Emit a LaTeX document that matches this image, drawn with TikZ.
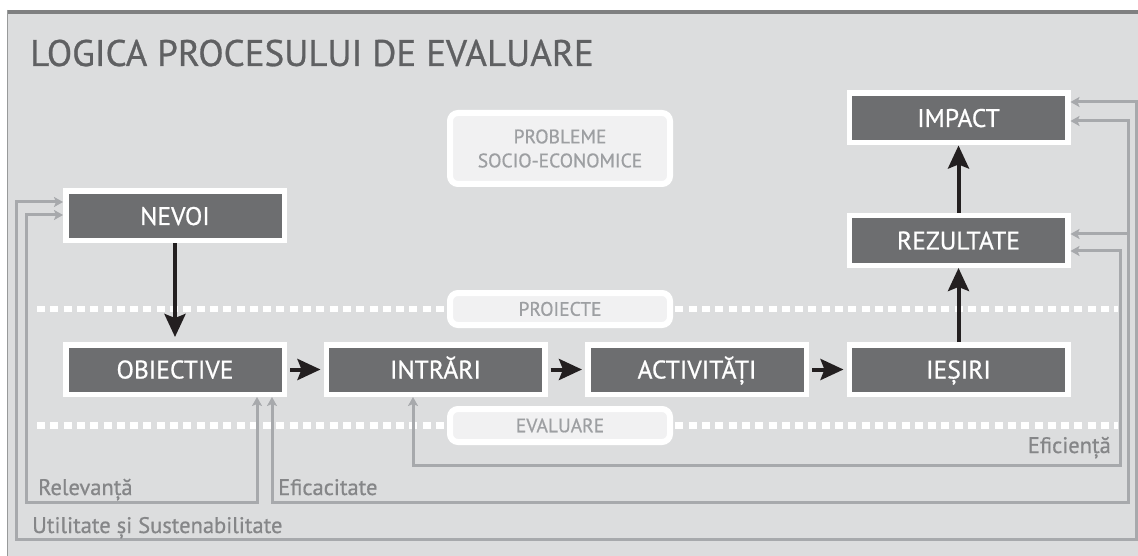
\documentclass[tikz,border=0pt]{standalone}
\usepackage{fontspec}
\setmainfont{PT Sans}[FakeBold=0.7]
\usetikzlibrary{arrows.meta}
\definecolor{bgc}{HTML}{DCDDDE}
\definecolor{boxdark}{HTML}{6D6E70}
\definecolor{loopgray}{HTML}{A7A9AC}
\definecolor{labelgray}{HTML}{858688}
\definecolor{tagfill}{HTML}{F1F1F2}
\definecolor{taggray}{HTML}{9D9FA2}
\definecolor{titlegray}{HTML}{5F6062}
\definecolor{arrowblack}{HTML}{231F20}
\definecolor{topbar}{HTML}{7F8081}
\newcommand\bxfont{\fontsize{25.5pt}{30pt}\selectfont}
\newcommand\tgfont{\fontsize{19.5pt}{24pt}\selectfont}
\newcommand\lbfont{\fontsize{22.5pt}{27pt}\selectfont}
\newcommand\ttlfont{\fontsize{37pt}{44pt}\selectfont}
\tikzset{
  mainbox/.style={draw=white, line width=5.5pt, fill=boxdark, text=white,
    minimum width=218.5pt, minimum height=49.5pt, inner sep=0pt,
    text height=18pt, text depth=0pt, font=\bxfont},
  tagbox/.style={draw=white, line width=6pt, fill=tagfill, text=taggray,
    rounded corners=8pt, minimum width=220pt, inner sep=0pt, align=center, font=\tgfont},
  flow/.style={draw=arrowblack, line width=4pt,
    -{Stealth[length=23pt,width=21pt,inset=4pt]}},
  loopline/.style={draw=loopgray, line width=3pt, line join=miter},
  looptip/.style={loopline, -{Stealth[length=9pt,width=10pt,inset=2pt]}},
  loopboth/.style={loopline, {Stealth[length=9pt,width=10pt,inset=2pt]}-{Stealth[length=9pt,width=10pt,inset=2pt]}},
  lbl/.style={text=labelgray, font=\lbfont, inner sep=0pt},
  dashline/.style={draw=white, line width=6.5pt, dash pattern=on 8pt off 5.3pt},
}
\begin{document}
\begin{tikzpicture}[x=1pt,y=-1pt]
\useasboundingbox (0,0) rectangle (1138,556);
\fill[white] (0,0) rectangle (1138,556);
\fill[bgc] (7,10) rectangle (1138,556);
\fill[topbar] (7,10) rectangle (1138,14);
\draw[topbar!80, line width=1pt] (7.5,10) -- (7.5,556);

\node[anchor=base west, text=titlegray, font=\ttlfont, inner sep=0pt] (title) at (30,66) {LOGICA PROCESULUI DE EVALUARE};

% dotted separators
\draw[dashline] (37,309) -- (1118,309);
\draw[dashline] (37,425.5) -- (1118,425.5);

% tag boxes
\node[tagbox, minimum height=71pt] (probleme) at (560,148.5) {PROBLEME\\SOCIO-ECONOMICE};
\node[tagbox, minimum height=32pt, text height=13.5pt, text depth=0pt] (proiecte) at (560,309) {PROIECTE};
\node[tagbox, minimum height=33pt, text height=13.5pt, text depth=0pt] (evaluare) at (560,425.5) {EVALUARE};

% main boxes
\node[mainbox] (nevoi) at (175,216) {NEVOI};
\node[mainbox] (obiective) at (175,369.5) {OBIECTIVE};
\node[mainbox] (intrari) at (435.5,369.5) {INTRĂRI};
\node[mainbox] (activitati) at (697,369.5) {ACTIVITĂȚI};
\node[mainbox] (iesiri) at (958.5,369.5) {IEȘIRI};
\node[mainbox] (rezultate) at (958.5,240.5) {REZULTATE};
\node[mainbox] (impact) at (958.5,118) {IMPACT};

% black flow arrows
\draw[flow, shorten >=5pt] (nevoi.south) -- (obiective.north);
\draw[flow, shorten <=3pt, shorten >=3pt] (obiective.east) -- (intrari.west);
\draw[flow, shorten <=3pt, shorten >=3pt] (intrari.east) -- (activitati.west);
\draw[flow, shorten <=3pt, shorten >=3pt] (activitati.east) -- (iesiri.west);
\draw[flow] (iesiri.north) -- (rezultate.south);
\draw[flow] (rezultate.north) -- (impact.south);

% gray evaluation loops
% Utilitate si Sustenabilitate
\draw[loopboth] ([yshift=16pt]impact.east) -| (1136,539) -| (16,202) -- ([yshift=14pt]nevoi.west);
% Eficacitate
\draw[loopboth] ([xshift=97pt]obiective.south) |- (1128.5,502.5) |- ([yshift=-3pt]impact.east);
\draw[looptip] (1128.5,234) -- ([yshift=6.5pt]rezultate.east);
% Relevanta
\draw[loopboth] ([xshift=82pt]obiective.south) |- (26,502.5) |- ([yshift=1pt]nevoi.west);
% Eficienta
\draw[loopboth] ([xshift=-22.5pt]intrari.south) |- (1120.5,465.5) |- ([yshift=-10.5pt]rezultate.east);

% labels
\node[lbl, anchor=base west] (lrel) at (38,495) {Relevanță};
\node[lbl, anchor=base west] (lefc) at (278,495) {Eficacitate};
\node[lbl, anchor=base west] (luti) at (32,533) {Utilitate și Sustenabilitate};
\node[lbl, anchor=base east] (lefi) at (1111,453) {Eficiență};
\end{tikzpicture}
\end{document}
